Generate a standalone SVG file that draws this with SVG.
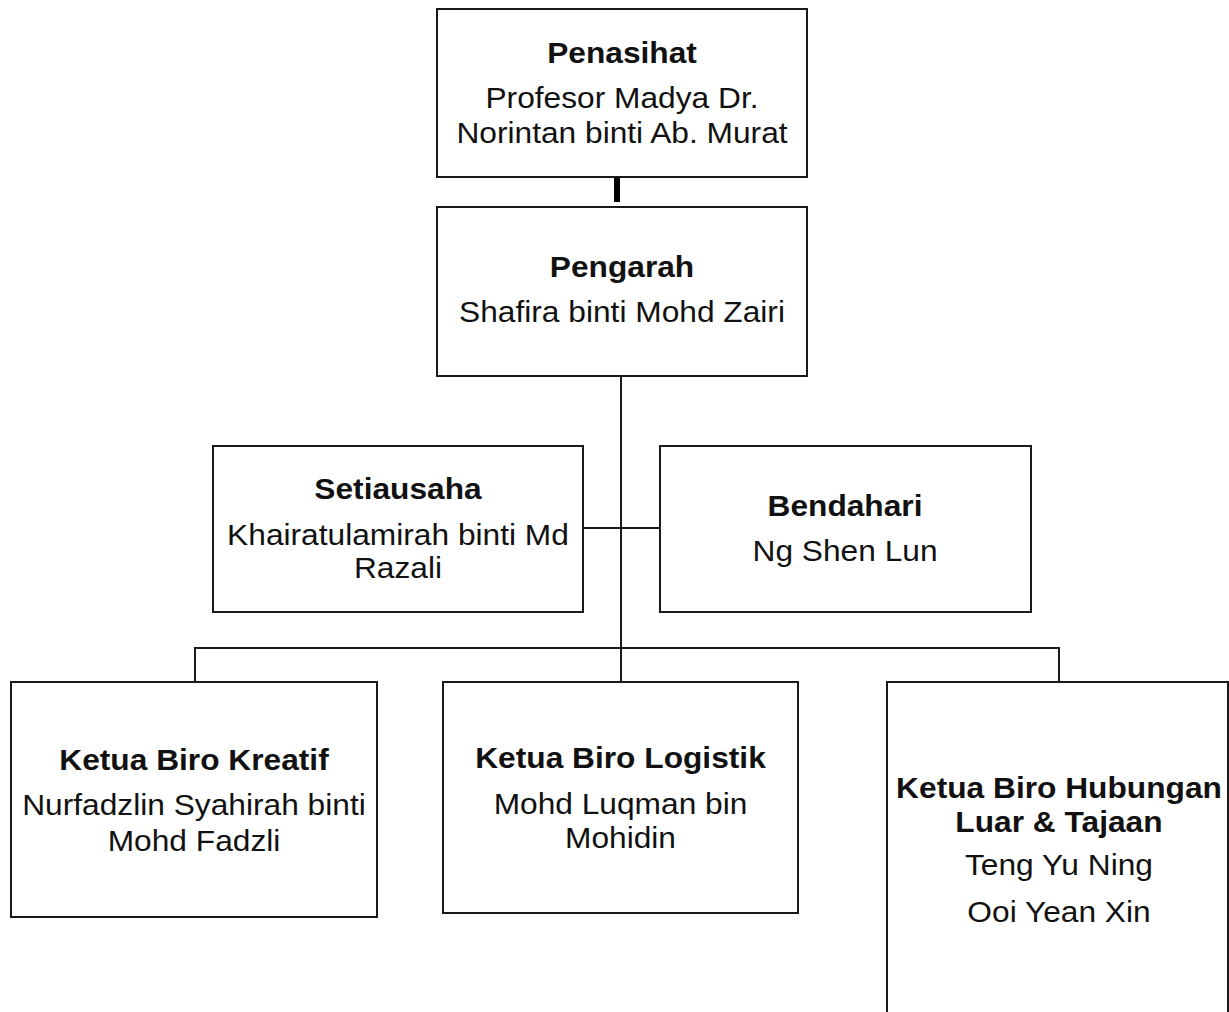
<svg xmlns="http://www.w3.org/2000/svg" width="1229" height="1012" viewBox="0 0 1229 1012">
<style>
.box{fill:#fff;stroke:#1a1a1a;stroke-width:2}
.ln{fill:none;stroke:#1a1a1a;stroke-width:2}
text{font-family:"Liberation Sans",Arial,sans-serif;font-size:29.5px;fill:#111;text-anchor:middle}
.b{font-weight:bold}
</style>
<rect width="1229" height="1012" fill="#fff"/>
<g id="connectors">
<rect x="614" y="165" width="6" height="37" fill="#000"/>
<path class="ln" d="M621 376V682"/>
<path class="ln" d="M583 528H660"/>
<path class="ln" d="M195 682V648H1059V682"/>
</g>
<g id="penasihat">
<rect class="box" x="437" y="9" width="370" height="168"/>
<g transform="matrix(1.075 0 0 1 622 0)">
<text class="b" x="0" y="63">Penasihat</text>
<text x="0" y="108">Profesor Madya Dr.</text>
<text x="0" y="143">Norintan binti Ab. Murat</text>
</g>
</g>
<g id="pengarah">
<rect class="box" x="437" y="207" width="370" height="169"/>
<g transform="matrix(1.075 0 0 1 622 0)">
<text class="b" x="0" y="277">Pengarah</text>
<text x="0" y="322">Shafira binti Mohd Zairi</text>
</g>
</g>
<g id="setiausaha">
<rect class="box" x="213" y="446" width="370" height="166"/>
<g transform="matrix(1.075 0 0 1 398 0)">
<text class="b" x="0" y="499">Setiausaha</text>
<text x="0" y="545">Khairatulamirah binti Md</text>
<text x="0" y="578">Razali</text>
</g>
</g>
<g id="bendahari">
<rect class="box" x="660" y="446" width="371" height="166"/>
<g transform="matrix(1.075 0 0 1 845 0)">
<text class="b" x="0" y="516">Bendahari</text>
<text x="0" y="561">Ng Shen Lun</text>
</g>
</g>
<g id="kreatif">
<rect class="box" x="11" y="682" width="366" height="235"/>
<g transform="matrix(1.075 0 0 1 194 0)">
<text class="b" x="0" y="770">Ketua Biro Kreatif</text>
<text x="0" y="815">Nurfadzlin Syahirah binti</text>
<text x="0" y="851">Mohd Fadzli</text>
</g>
</g>
<g id="logistik">
<rect class="box" x="443" y="682" width="355" height="231"/>
<g transform="matrix(1.075 0 0 1 620.5 0)">
<text class="b" x="0" y="768">Ketua Biro Logistik</text>
<text x="0" y="814">Mohd Luqman bin</text>
<text x="0" y="848">Mohidin</text>
</g>
</g>
<g id="hubungan">
<rect class="box" x="887" y="682" width="341" height="360"/>
<g transform="matrix(1.075 0 0 1 1059 0)">
<text class="b" x="0" y="798">Ketua Biro Hubungan</text>
<text class="b" x="0" y="832">Luar &amp; Tajaan</text>
<text x="0" y="875">Teng Yu Ning</text>
<text x="0" y="922">Ooi Yean Xin</text>
</g>
</g>
</svg>
